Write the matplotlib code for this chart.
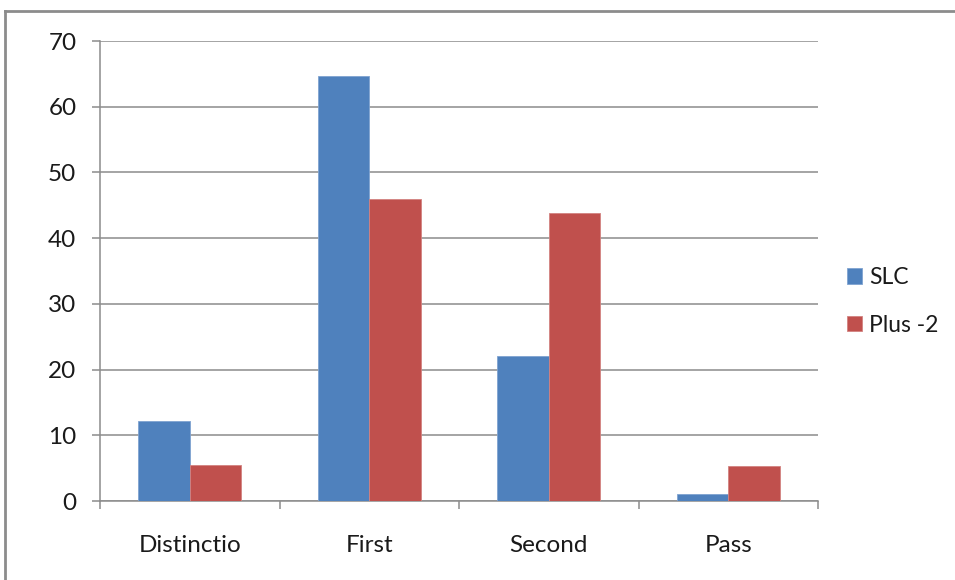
import numpy as np
import matplotlib.pyplot as plt
from matplotlib.lines import Line2D

categories = ["Distinctio", "First", "Second", "Pass"]
slc = [12.1, 64.7, 22.0, 1.1]
plus2 = [5.5, 45.9, 43.8, 5.3]
series_names = ["SLC", "Plus -2"]
yticks = [0, 10, 20, 30, 40, 50, 60, 70]

plt.rcParams['font.family'] = ['Lato', 'DejaVu Sans']

fig = plt.figure(figsize=(9.55, 5.8), dpi=100)
ax = fig.add_axes([100/955, 1-501/580, 718/955, 460/580])

x = np.arange(len(categories))
w = 1/3.5
ax.bar(x - w/2, slc, w, color='#4F81BD', edgecolor='#7FA3D0', linewidth=0.6,
       label=series_names[0], zorder=3)
ax.bar(x + w/2, plus2, w, color='#C0504D', edgecolor='#D38280', linewidth=0.6,
       label=series_names[1], zorder=3)

ax.set_xlim(-0.5, len(categories) - 0.5)
ax.set_ylim(0, 70)
ax.set_yticks(yticks)
ax.yaxis.grid(True, color='#8C8C8C', linewidth=1.1, zorder=0)

# category labels centred, tick marks on group boundaries
ax.set_xticks(x)
ax.set_xticklabels(categories)
ax.set_xticks(np.arange(-0.5, len(categories)), minor=True)
ax.tick_params(axis='x', which='major', length=0, pad=24.5, labelsize=17.5, labelcolor='#1a1a1a')
ax.tick_params(axis='x', which='minor', length=6, width=1.1, color='#8C8C8C', direction='out')
ax.tick_params(axis='y', length=6, width=1.1, color='#8C8C8C', pad=11, labelsize=17.5,
               labelcolor='#1a1a1a')

for s in ['top', 'right']:
    ax.spines[s].set_visible(False)
for s in ['left', 'bottom']:
    ax.spines[s].set_color('#8C8C8C')
    ax.spines[s].set_linewidth(1.1)

fig.legend(loc='upper left', bbox_to_anchor=(838/955, 1-258/580), frameon=False,
           fontsize=16.5, handlelength=0.65, handleheight=0.65, handletextpad=0.3,
           labelspacing=1.15, borderaxespad=0, labelcolor='#1a1a1a')

# outer chart border
fig.add_artist(Line2D([5/955, 5/955], [0, 1-11/580], transform=fig.transFigure,
                      color='#8C8C8C', linewidth=2))
fig.add_artist(Line2D([5/955, 1], [1-11/580, 1-11/580], transform=fig.transFigure,
                      color='#8C8C8C', linewidth=2))

fig.savefig('out.png', dpi=100)
